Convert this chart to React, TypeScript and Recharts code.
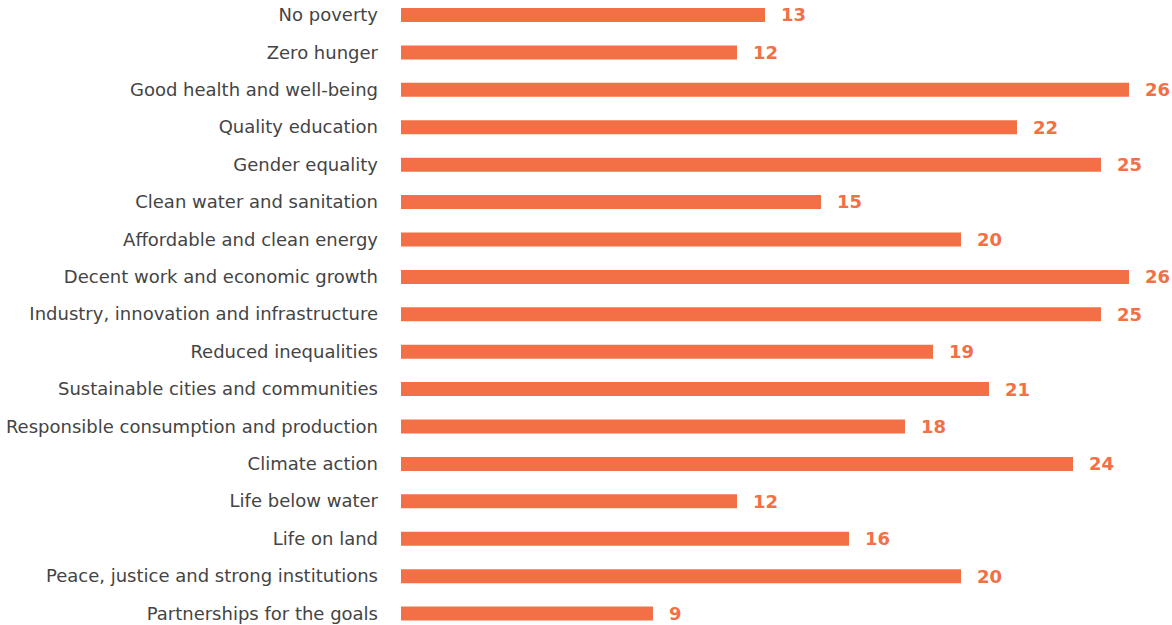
import { BarChart, Bar, XAxis, YAxis, LabelList } from 'recharts'

const goals = [
  'No poverty',
  'Zero hunger',
  'Good health and well-being',
  'Quality education',
  'Gender equality',
  'Clean water and sanitation',
  'Affordable and clean energy',
  'Decent work and economic growth',
  'Industry, innovation and infrastructure',
  'Reduced inequalities',
  'Sustainable cities and communities',
  'Responsible consumption and production',
  'Climate action',
  'Life below water',
  'Life on land',
  'Peace, justice and strong institutions',
  'Partnerships for the goals',
]

const counts = [13, 12, 26, 22, 25, 15, 20, 26, 25, 19, 21, 18, 24, 12, 16, 20, 9]

const ORANGE = '#F36F45'
const FONT = '"DejaVu Sans", sans-serif'

export default function App() {
  const data = goals.map((g, i) => ({ goal: g, count: counts[i] }))

  return (
    <div style={{ position: 'absolute', left: 0, top: -4, width: 1172, height: 640 }}>
      <BarChart
        width={1172}
        height={640}
        data={data}
        layout="vertical"
        margin={{ top: 0, right: 43, bottom: 4, left: 0 }}
        barCategoryGap={0}
      >
        <XAxis type="number" domain={[0, 26]} hide />
        <YAxis
          type="category"
          dataKey="goal"
          width={401}
          axisLine={false}
          tickLine={false}
          tickSize={0}
          tickMargin={23}
          interval={0}
          tick={{ fontSize: 18, fill: '#444444', fontFamily: FONT }}
        />
        <Bar dataKey="count" fill={ORANGE} barSize={14} isAnimationActive={false}>
          <LabelList
            dataKey="count"
            position="right"
            offset={16}
            fill={ORANGE}
            style={{ fontSize: 18, fontWeight: 700, fontFamily: FONT }}
          />
        </Bar>
      </BarChart>
    </div>
  )
}
